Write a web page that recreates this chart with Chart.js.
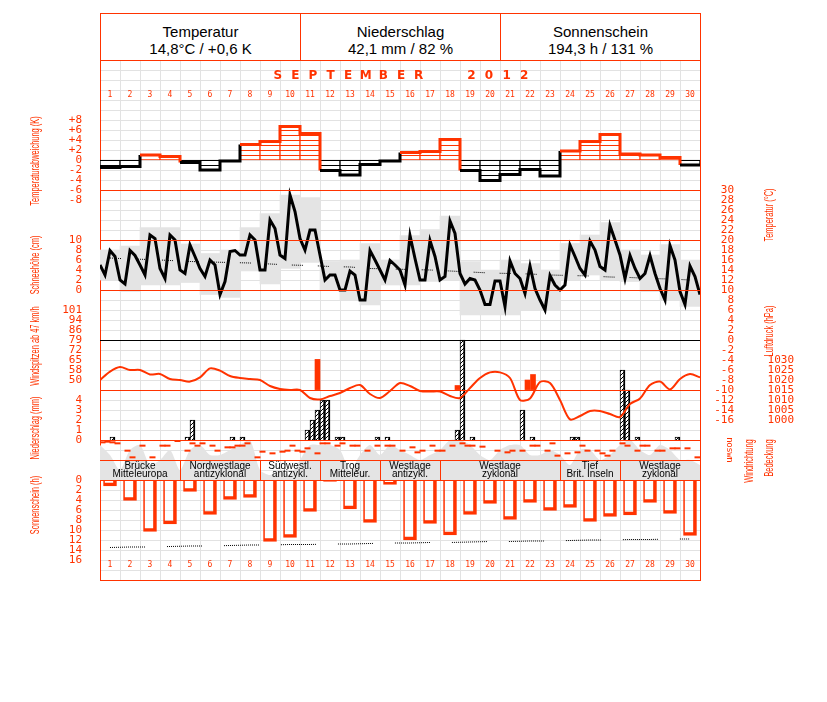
<!DOCTYPE html>
<html>
<head>
<meta charset="utf-8">
<script src="https://cdn.jsdelivr.net/npm/chart.js@4.4.0/dist/chart.umd.min.js"></script>
<style>
  body { margin: 0; background: #fff; }
  #wrap { position: relative; width: 827px; height: 702px; }
  #head { position: absolute; left: 100px; top: 13px; width: 599px; height: 47px; border: 1px solid #ff3300; border-bottom: none; display: flex; font-family: "Liberation Sans", Arial, sans-serif; font-size: 15px; color: #000; }
  #head div { flex: 1; text-align: center; line-height: 17px; padding-top: 9px; }
  #head div + div { border-left: 1px solid #ff3300; }
  canvas { position: absolute; left: 0; top: 0; }
</style>
</head>
<body>
<div id="wrap">
  <div id="head">
    <div>Temperatur<br>14,8°C / +0,6 K</div>
    <div>Niederschlag<br>42,1 mm / 82 %</div>
    <div>Sonnenschein<br>194,3 h / 131 %</div>
  </div>
  <canvas id="chart" width="827" height="702"></canvas>
</div>
<script>
// ---- data ----
const days = Array.from({ length: 30 }, (_, i) => String(i + 1));
const monthTitle = 'SEPTEMBER  2012';

// daily temperature anomaly (K)
const anomaly = [-1.5, -1.3, 1.0, 0.7, -0.5, -2.0, -0.2, 3.1, 3.7, 6.7,
  5.3, -2.1, -3.0, -0.9, -0.2, 1.5, 1.7, 4.1, -2.1, -4.1,
  -2.9, -1.9, -3.2, 1.8, 3.7, 5.1, 1.2, 1.0, 0.5, -1.0];

// temperature every 6 h (°C), 00/06/12/18 per day + end
const temp6h = [
  15.0, 13.0, 17.9, 16.7,  12.0, 11.2, 17.9, 16.9,  15.0, 13.0, 21.0, 20.3,
  14.3, 12.3, 21.0, 20.0,  14.0, 13.3, 19.0, 16.7,  14.3, 12.7, 16.0, 15.0,
  9.1, 11.7, 17.7, 17.9,   17.0, 17.0, 21.0, 20.0,  14.0, 14.0, 24.0, 22.3,
  17.0, 16.3, 29.0, 25.7,  20.3, 18.0, 22.0, 22.0,  17.0, 12.0, 13.0, 13.0,
  10.0, 10.0, 13.8, 13.0,  8.0, 8.0, 17.9, 16.0,   14.0, 12.0, 15.9, 15.0,
  14.0, 11.0, 20.9, 16.3,  12.0, 12.0, 19.9, 16.7,  12.0, 12.7, 23.8, 21.3,
  13.3, 11.2, 12.3, 12.0,  10.0, 7.1, 7.1, 11.8,   11.8, 6.7, 15.8, 13.3,
  12.3, 9.3, 14.8, 10.3,   8.0, 6.0, 12.9, 11.0,   10.0, 11.0, 19.0, 16.7,
  14.3, 13.0, 19.8, 18.0,  14.7, 14.0, 22.9, 20.0,  17.0, 12.3, 16.9, 14.3,
  12.3, 13.3, 16.9, 13.3,  10.3, 8.0, 18.9, 16.0,  9.7, 7.1, 14.8, 12.7,
  9.1];

const tMax = [18.0, 18.8, 22.5, 22.5, 19.2, 17.3, 18.0, 22.5, 25.3, 29.0,
  28.5, 15.7, 16.0, 19.3, 16.0, 20.9, 22.1, 24.8, 15.7, 14.0,
  16.0, 15.3, 14.0, 19.3, 21.0, 23.5, 18.0, 17.0, 19.1, 16.0];
const tMin = [12.0, 9.7, 11.0, 11.0, 11.5, 9.1, 8.5, 13.8, 11.2, 14.3,
  15.5, 10.0, 8.0, 7.0, 11.0, 11.0, 11.7, 12.0, 5.0, 5.0,
  5.0, 6.0, 6.0, 12.0, 13.0, 12.0, 11.7, 9.7, 8.0, 6.7];
const tClim = [16.4, 16.2, 16.1, 15.9, 15.7, 15.6, 15.5, 15.4, 15.2, 15.0,
  14.9, 14.7, 14.6, 14.3, 14.2, 14.1, 14.0, 13.8, 13.6, 13.4,
  13.3, 13.2, 13.0, 12.9, 12.8, 12.6, 12.5, 12.3, 12.2, 12.0];

// air pressure every 12 h (hPa)
const pressure12h = [1020, 1024.2, 1026.5, 1025, 1025, 1022.8, 1023, 1020.5, 1020, 1019.2,
  1021.3, 1025.8, 1024.7, 1022, 1021, 1020.5, 1020, 1017, 1015.5, 1015,
  1015, 1011, 1010.3, 1012, 1013.5, 1016, 1017.5, 1013, 1011, 1014.5,
  1018.5, 1017, 1014.5, 1014.2, 1014.2, 1012, 1011, 1016, 1021, 1023.8,
  1023.8, 1021, 1010, 1010.8, 1019, 1018.5, 1010, 1000.3, 1002, 1004.5,
  1004.5, 1003, 1001.5, 1008, 1010.8, 1017.5, 1019.2, 1015.3, 1020.5, 1023,
  1021.3];

// wind peaks (time in days since month start, km/h)
const gustTime = [10.875, 17.875, 21.375, 21.65];
const gustKmh = [65, 46, 50, 54];
const gustBase = 43;

// precipitation per 6 h slot (slot index, mm)
const rainSlot = [2, 17, 18, 26, 28, 41, 42, 43, 44, 45, 47, 48, 55, 57, 71, 72, 74, 84, 86, 94, 95, 104, 105, 107, 115];
const rainMm = [0.3, 0.3, 2.0, 0.3, 0.3, 1, 2, 3, 4, 4, 0.3, 0.3, 0.3, 0.3, 1, 10, 0.3, 3, 0.3, 0.3, 0.3, 7, 5, 0.3, 0.3];

// wind direction every 6 h (degrees)
const windDir6h = [
  42, 30, 42, 60, null, 192, 312, null, 102, null, 312, null, 102, 102, null, 18, null, 192, 60, 102,
  60, null, 102, 192, null, 132, 132, 102, 102, 60, null, 312, 210, null, 240, null, 210, 192, 102, 192,
  210, 150, null, 240, 60, 60, null, 102, 60, null, 102, 102, null, 192, null, 102, null, 102, 102, null,
  192, null, 132, 222, 192, null, 102, 192, 192, null, 102, null, 60, 102, 102, null, 120, null, null, 192,
  null, 222, 192, null, 192, null, 102, 102, null, 192, 60, 282, null, 240, null, 222, 102, 192, null, 192,
  240, 282, 192, null, 60, 102, null, 192, 102, 102, null, 192, 192, null, 150, 150, null, 150, null, 312];
const dirLetters = ['n', 'o', 's', 'w', 'n'];
const dirDegrees = [0, 90, 180, 270, 360];

// cloud cover every 12 h (octas)
const cloud12h = [7, 5, 2, 6, 7, 3, 4, 6, 2, 6, 7, 5, 5, 6, 7, 8, 2, 1, 2, 1,
  4, 7, 7, 7, 6, 2, 5, 7, 5, 7, 6, 5, 4, 5, 6, 8, 8, 7, 5, 4,
  6, 7, 7, 5, 5, 6, 5, 3, 6, 6, 4, 5, 7, 8, 6, 5, 7, 6, 4, 4, 3];

// weather types
const wxStart = [1, 5, 9, 12, 15, 18, 24, 27];
const wxLine1 = ['Brücke', 'Nordwestlage', 'Südwestl.', 'Trog', 'Westlage', 'Westlage', 'Tief', 'Westlage'];
const wxLine2 = ['Mitteleuropa', 'antizyklonal', 'antizykl.', 'Mitteleur.', 'antizykl.', 'zyklonal', 'Brit. Inseln', 'zyklonal'];

// sunshine (h) and possible sunshine
const sunHours = [1.2, 4.1, 10.3, 8.8, 2.3, 6.9, 3.9, 3.5, 12.3, 11.5,
  6.3, 0.3, 5.8, 8.5, 0.9, 12.0, 8.7, 11.0, 6.9, 4.7,
  7.9, 4.5, 6.1, 5.5, 8.3, 7.3, 7.0, 4.5, 6.7, 11.1];
const dayLength = [13.5, 13.4, 13.4, 13.3, 13.2, 13.2, 13.1, 13.0, 13.0, 12.9,
  12.9, 12.8, 12.8, 12.7, 12.6, 12.6, 12.5, 12.5, 12.4, 12.3,
  12.3, 12.2, 12.2, 12.1, 12.0, 12.0, 11.9, 11.9, 11.8, 11.8];

// left tick labels per panel
const anomTicks = ['+8', '+6', '+4', '+2', '0', '-2', '-4', '-6', '-8'];
const snowTicks = ['10', '8', '6', '4', '2', '0'];
const gustTicks = ['101', '94', '86', '79', '72', '65', '58', '50'];
const rainTicks = ['4', '3', '2', '1', '0'];
const sunTicks = ['0', '2', '4', '6', '8', '10', '12', '14', '16'];

const leftTitles = ['Temperaturabweichung (K)', 'Schneehöhe (cm)', 'Windspitzen ab 47 km/h', 'Niederschlag (mm)', 'Sonnenschein (h)'];
const rightTitles = ['Temperatur (°C)', 'Luftdruck (hPa)', 'Windrichtung', 'Bedeckung'];

// ---- layout / style ----
const RED = '#ff3300';
const GRID = '#e2e2e2';
const GRAY = '#e4e4e4';
const TICKFONT = { family: 'DejaVu Sans Mono', size: 11 };
const leftTitlePos = [[36, 161], [36, 265], [36, 346], [36, 428], [36, 505]];
const rightTitlePos = [[770, 215], [770, 331], [750, 461], [770, 458]];
const redRows = [0, 13, 18, 23, 33, 38, 40, 42, 52];
const blackRows = [28];

const leftLabels = {};
[[anomTicks, 6], [snowTicks, 18], [gustTicks, 25], [rainTicks, 34], [sunTicks, 42]].forEach(([arr, start]) => {
  arr.forEach((t, i) => { leftLabels[start + i] = t; });
});

const ctx = document.getElementById('chart').getContext('2d');

function makePattern(kind, color) {
  const c = document.createElement('canvas');
  const g = c.getContext('2d');
  if (kind === 'h') {
    c.width = 4; c.height = 5;
    g.fillStyle = '#fff'; g.fillRect(0, 0, 4, 5);
    g.fillStyle = color; g.fillRect(0, 0, 4, 1);
  } else {
    c.width = 4; c.height = 4;
    g.fillStyle = '#fff'; g.fillRect(0, 0, 4, 4);
    g.fillStyle = color;
    for (let i = 0; i < 4; i++) g.fillRect(i, 3 - i, 1, 1);
  }
  return ctx.createPattern(c, 'repeat');
}
const hatchRed = makePattern('h', RED);
const hatchBlack = makePattern('h', '#000');
const hatchDiag = makePattern('d', '#000');

function dots(n, gap) {
  const a = [];
  for (let i = 0; i < n; i++) a.push(1, 1);
  a[a.length - 1] = gap;
  return a;
}

const texts = {
  id: 'texts',
  afterDatasetsDraw(chart) {
    const { ctx: c, scales: { x, rows } } = chart;
    const top = rows.getPixelForValue(40), bot = rows.getPixelForValue(42);
    c.save();
    c.strokeStyle = RED; c.lineWidth = 1;
    c.font = '10px "Liberation Sans", Arial, sans-serif';
    c.textAlign = 'center'; c.textBaseline = 'middle';
    wxStart.forEach((d, i) => {
      const x0 = x.getPixelForValue(d - 1);
      const x1 = x.getPixelForValue(i + 1 < wxStart.length ? wxStart[i + 1] - 1 : 30);
      if (i > 0) {
        c.beginPath(); c.moveTo(Math.round(x0) + 0.5, top); c.lineTo(Math.round(x0) + 0.5, bot); c.stroke();
      }
      c.fillStyle = '#000';
      c.fillText(wxLine1[i], (x0 + x1) / 2, top + 6);
      c.fillText(wxLine2[i], (x0 + x1) / 2, top + 14);
    });
    c.restore();
  },
  afterDraw(chart) {
    const { ctx: c, scales: { x, rows, yDir } } = chart;
    c.save();
    c.fillStyle = RED;
    c.textAlign = 'center'; c.textBaseline = 'middle';
    c.font = '8px "DejaVu Sans Mono"';
    days.forEach((d, i) => {
      const px = x.getPixelForValue(i + 0.5);
      c.fillText(d, px, rows.getPixelForValue(3.5));
      c.fillText(d, px, rows.getPixelForValue(50.5));
    });
    c.font = 'bold 12px "DejaVu Sans"';
    const mid = (x.left + x.right) / 2 + 1;
    [...monthTitle].forEach((ch, i) => {
      c.fillText(ch, mid + (i - (monthTitle.length - 1) / 2) * 17.6, rows.getPixelForValue(1.6));
    });
    const rot = (txt, px, py) => {
      c.save(); c.translate(px, py); c.rotate(-Math.PI / 2); c.scale(0.62, 1);
      c.fillText(txt, 0, 0); c.restore();
    };
    c.font = '12px "Liberation Sans", Arial, sans-serif';
    leftTitles.forEach((t, i) => rot(t, leftTitlePos[i][0], leftTitlePos[i][1]));
    rightTitles.forEach((t, i) => rot(t, rightTitlePos[i][0], rightTitlePos[i][1]));
    c.font = '9px "DejaVu Sans Mono"';
    dirLetters.forEach((l, i) => {
      c.save(); c.translate(729, yDir.getPixelForValue(dirDegrees[i])); c.rotate(Math.PI / 2);
      c.fillText(l, 0, 0); c.restore();
    });
    c.restore();
  }
};

new Chart(ctx, {
  type: 'bar',
  data: {
    datasets: [
      { // cloud cover
        type: 'line', yAxisID: 'yCloud', order: 20,
        data: cloud12h.map((v, i) => ({ x: i * 0.5, y: v })),
        fill: 'origin', backgroundColor: GRAY, borderWidth: 0, pointRadius: 0, tension: 0.25
      },
      { // daily temperature range
        yAxisID: 'yTemp', order: 15, grouped: false, barThickness: 20,
        data: tMax.map((v, i) => ({ x: i + 0.5, y: [tMin[i], v] })),
        backgroundColor: GRAY, borderWidth: 0
      },
      { // anomaly boxes
        yAxisID: 'yAnom', order: 10, grouped: false, barThickness: 20,
        data: anomaly.map((v, i) => ({ x: i + 0.5, y: v })),
        backgroundColor: c => (c.raw && c.raw.y > 0 ? hatchRed : hatchBlack),
        borderColor: c => (c.raw && c.raw.y > 0 ? RED : '#000'),
        borderWidth: 1, borderSkipped: false
      },
      { // anomaly outline
        type: 'line', yAxisID: 'yAnom', order: 5,
        data: anomaly.map((v, i) => ({ x: i, y: v })).concat([{ x: 30, y: anomaly[29] }]),
        stepped: 'before', borderWidth: 3, pointRadius: 0, borderColor: '#000',
        segment: { borderColor: s => (s.p0.parsed.y > 0 ? RED : '#000') }
      },
      { // climatological temperature
        type: 'line', yAxisID: 'yTemp', order: 4,
        data: tClim.map((v, i) => ({ x: i + 0.5, y: v })),
        borderColor: '#000', borderWidth: 1, borderDash: dots(6, 15), pointRadius: 0
      },
      { // temperature
        type: 'line', yAxisID: 'yTemp', order: 1,
        data: temp6h.map((v, i) => ({ x: i * 0.25, y: v })),
        borderColor: '#000', borderWidth: 3, pointRadius: 0, tension: 0
      },
      { // wind peaks
        yAxisID: 'yWind', order: 6, grouped: false, barThickness: 5, base: gustBase,
        data: gustKmh.map((v, i) => ({ x: gustTime[i], y: v })),
        backgroundColor: RED, borderWidth: 0
      },
      { // pressure
        type: 'line', yAxisID: 'yPres', order: 3,
        data: pressure12h.map((v, i) => ({ x: i * 0.5, y: v })),
        borderColor: RED, borderWidth: 2, pointRadius: 0, tension: 0.3
      },
      { // precipitation
        yAxisID: 'yRain', order: 7, grouped: false, barThickness: 5,
        data: rainMm.map((v, i) => ({ x: rainSlot[i] * 0.25 + 0.125, y: v })),
        backgroundColor: hatchDiag, borderColor: '#000',
        borderWidth: { left: 1, top: 1, right: 2, bottom: 0 }
      },
      { // wind direction
        type: 'line', yAxisID: 'yDir', order: 2, showLine: false,
        data: windDir6h.map((v, i) => ({ x: i * 0.25 + 0.125, y: v })),
        pointStyle: 'line', pointRadius: 3, pointBorderWidth: 2, pointBorderColor: RED, borderColor: RED
      },
      { // sunshine
        yAxisID: 'ySun', order: 8, grouped: false, barThickness: 13,
        data: sunHours.map((v, i) => ({ x: i + 0.5, y: v })),
        backgroundColor: 'rgba(0,0,0,0)', borderColor: RED,
        borderWidth: { left: 1, top: 0, right: 3, bottom: 3 }
      },
      { // possible sunshine
        type: 'line', yAxisID: 'ySun', order: 4,
        data: dayLength.map((v, i) => ({ x: i + 0.5, y: v })),
        borderColor: '#000', borderWidth: 1, borderDash: dots(18, 22), pointRadius: 0
      }
    ]
  },
  options: {
    responsive: false,
    animation: false,
    events: [],
    layout: { padding: { left: 0, top: 60, right: 33, bottom: 122 } },
    plugins: { legend: { display: false }, tooltip: { enabled: false } },
    scales: {
      x: {
        type: 'linear', min: 0, max: 30, offset: false, position: 'bottom',
        ticks: { display: false, stepSize: 1 },
        grid: { offset: false, drawTicks: false, color: c => (c.tick.value === 0 || c.tick.value === 30 ? RED : GRID) },
        border: { display: false },
        afterFit: s => { s.height = 0; }
      },
      rows: {
        type: 'linear', position: 'left', weight: 1, min: 0, max: 52, reverse: true,
        ticks: { stepSize: 1, autoSkip: false, color: RED, font: TICKFONT, padding: 18, callback: v => leftLabels[v] || '' },
        grid: { color: GRID, drawTicks: false },
        border: { color: RED },
        afterFit: s => { s.width = 100; }
      },
      sep: {
        type: 'linear', position: 'left', weight: 0, min: 0, max: 52, reverse: true,
        ticks: { display: false, stepSize: 1 },
        grid: {
          z: 1, drawTicks: false,
          color: c => (redRows.includes(c.tick.value) ? RED : blackRows.includes(c.tick.value) ? '#000' : 'rgba(0,0,0,0)')
        },
        border: { display: false },
        afterFit: s => { s.width = 0; }
      },
      yTemp: {
        type: 'linear', position: 'right', weight: 0, min: -48, max: 56,
        grid: { display: false, drawTicks: false },
        border: { color: RED },
        ticks: {
          stepSize: 2, autoSkip: false, color: RED, font: TICKFONT, padding: 10, crossAlign: 'far',
          callback: v => (v >= -16 && v <= 30 ? String(v) : '')
        },
        afterFit: s => { s.width = 34; }
      },
      yPres: {
        type: 'linear', position: 'right', weight: 1, min: 920, max: 1180,
        grid: { display: false, drawTicks: false },
        border: { display: false },
        ticks: {
          stepSize: 5, autoSkip: false, color: RED, font: TICKFONT, padding: 14, crossAlign: 'far',
          callback: v => (v >= 1000 && v <= 1030 ? String(v) : '')
        },
        afterFit: s => { s.width = 60; }
      },
      yAnom: { type: 'linear', display: false, min: -84, max: 20 },
      yWind: { type: 'linear', display: false, min: 50 - 200 * 51 / 70, max: 50 + 320 * 51 / 70 },
      yRain: { type: 'linear', display: false, min: -14, max: 38 },
      ySun: { type: 'linear', display: false, min: -84, max: 20, reverse: true },
      yDir: { type: 'linear', display: false, min: -6840, max: 2520, reverse: true },
      yCloud: { type: 'linear', display: false, min: -20, max: 84 }
    }
  },
  plugins: [texts]
});
</script>
</body>
</html>
